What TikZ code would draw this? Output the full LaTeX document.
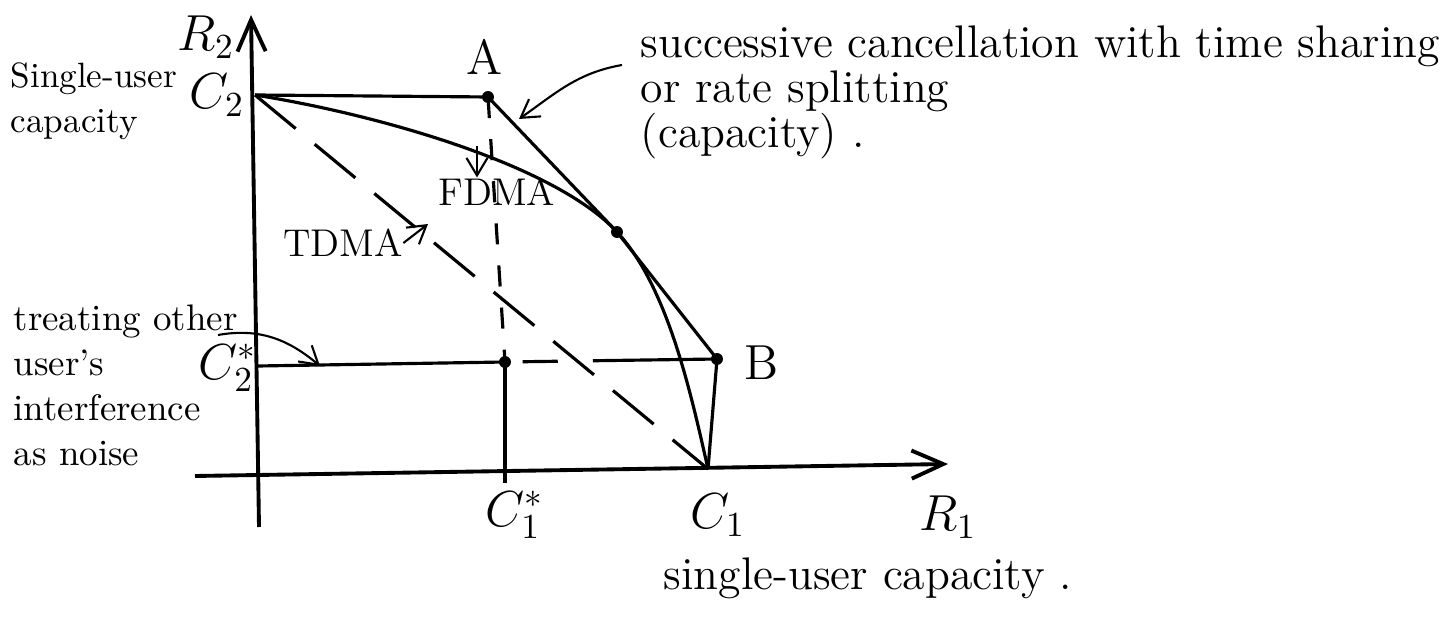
\documentclass[tikz,border=0pt]{standalone}
\usepackage{tikz}
\usetikzlibrary{arrows.meta, positioning}

\begin{document}
\begin{tikzpicture}[
    x=0.01cm, y=-0.01cm,
    axis/.style={line width=1.1pt, -{Straight Barb[length=9pt, width=8pt]}},
    curve/.style={line width=0.9pt},
    tdma/.style={line width=0.9pt, dash pattern=on 15pt off 7pt},
    dot/.style={circle, fill, inner sep=0pt, minimum size=3.4pt},
    lbl/.style={inner sep=0pt, font=\fontsize{14}{16}\selectfont},
    note/.style={inner sep=0pt, align=left, font=\fontsize{10.5}{12.8}\selectfont},
    tip/.style={line width=0.6pt, -{Straight Barb[length=5pt, width=6pt]}}
]
\useasboundingbox (0,0) rectangle (1455,628);

% === AXES ===
\coordinate (xstart) at (195,476);
\coordinate (xend) at (948,464);
\coordinate (ystart) at (259,527);
\coordinate (yend) at (251,15);
\draw[axis] (xstart) -- (xend);
\draw[axis] (ystart) -- (yend);

% === CORNER POINTS ===
\coordinate (C2) at (255,95);
\coordinate (C1) at (708,469);
\coordinate (C2s) at (258,366);
\coordinate (C1s) at (505,483);
\node[dot] (A) at (488,97) {};
\node[dot] (M) at (617,232) {};
\node[dot] (B) at (717,359) {};
\node[dot] (P) at (505,362) {};

% === REGIONS ===
% capacity region
\draw[curve] (C2) -- (A.center) -- (M.center) -- (B.center) -- (C1);
% FDMA
\draw[curve] (C2) .. controls (380,115) and (555,165) .. (M.center)
    .. controls (667,286) and (690,389) .. (C1);
% TDMA
\draw[tdma] (C2) -- (C1);
% treating interference as noise
\draw[curve] (C2s) -- (P.center);
\draw[curve, dash pattern=on 0pt off 5pt on 10pt off 10pt on 40pt] (P.center) -- (B.center);
\draw[curve, dash pattern=on 6pt off 6pt] (A.center) -- (P.center);
\draw[curve] (P.center) -- (C1s);

% === LABELS ===
\node[lbl] (R2) at (206,37) {$R_2$};
\node[lbl] (lC2) at (217,95) {$C_2$};
\node[lbl] (lA) at (485,57) {A};
\node[lbl] (lB) at (762,363) {B};
\node[lbl] (lC1) at (718,515) {$C_1$};
\node[lbl] (lC1s) at (515,515) {$C_1^*$};
\node[lbl] (lC2s) at (228,368) {$C_2^*$};
\node[lbl] (R1) at (948,517) {$R_1$};
\node[note, font=\fontsize{11}{13}\selectfont] (FDMA) at (497,192) {FDMA};
\node[note, font=\fontsize{11}{13}\selectfont] (TDMA) at (343,243) {TDMA};

% === NOTES ===
\node[note, anchor=north west, font=\fontsize{13}{12.8}\selectfont] (succ) at (640,25)
    {successive cancellation with time sharing\\ or rate splitting\\ (capacity)\,\,.};
\node[note, anchor=north west, font=\fontsize{10}{12.8}\selectfont] (single2) at (10,62)
    {Single-user\\ capacity};
\node[note, anchor=north west] (treat) at (13,304)
    {treating other\\ user's\\ interference\\ as noise};
\node[note, anchor=base west, font=\fontsize{13}{15}\selectfont] (single1) at (663,590)
    {single-user capacity\,\,.};

% === ARROWS ===
\coordinate (fdmaFrom) at (477,146);
\coordinate (tdmaTip) at (428,224);
\coordinate (succFrom) at (622,65);
\coordinate (capTip) at (519,119);
\coordinate (treatFrom) at (218,335);
\coordinate (treatTip) at (320,366);
\draw[tip] (fdmaFrom) -- (fdmaFrom |- FDMA.north);
\draw[tip] (TDMA.east) -- (tdmaTip);
\draw[tip] (succFrom) to[out=190, in=35] (capTip);
\draw[tip] (treatFrom) to[out=10, in=140] (treatTip);

\end{tikzpicture}
\end{document}
